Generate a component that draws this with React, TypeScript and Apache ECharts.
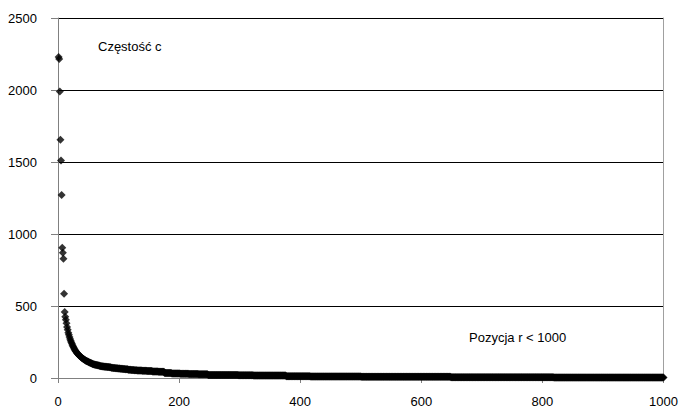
import React, { useEffect, useRef } from "react";
import * as echarts from "echarts";

// Frequencies of the most frequent ranks, listed one by one (rank 1 .. 60)
const headFreq: number[] = [
  2230, 2215, 1990, 1655, 1510, 1270, 905, 870, 828, 585,
  458, 425, 405, 380, 355, 335, 315, 300, 285, 270,
  258, 248, 238, 228, 218, 210, 202, 195, 188, 182,
  176, 171, 166, 161, 157, 153, 149, 145, 141, 138,
  135, 132, 129, 126, 123, 120, 118, 116, 114, 112,
  110, 108, 106, 104, 102, 100, 98, 96, 95, 94,
];

// Lower ranks share frequencies: each value below is held by the number of
// consecutive ranks given at the same position in tailCount.
const tailFreq: number[] = [
  92, 90, 88, 86, 84,
  82, 80, 78, 76, 74, 72,
  70, 68, 66, 64, 62,
  60, 58, 56, 54,
  52, 50, 48, 46, 44,
  34, 32, 30, 28, 26,
  21, 20, 19, 18, 17,
  12, 11, 10,
  9, 8,
  5, 4,
];
const tailCount: number[] = [
  2, 2, 2, 2, 2,
  3, 3, 4, 4, 3, 3,
  4, 4, 4, 4, 4,
  5, 5, 5, 5,
  8, 8, 9, 10, 10,
  12, 14, 14, 16, 16,
  25, 25, 25, 27, 27,
  40, 42, 42,
  70, 78,
  170, 182,
];

const xTicks = [0, 200, 400, 600, 800, 1000];
const yTicks = [0, 500, 1000, 1500, 2000, 2500];

const yTitle = "Częstość c";
const xTitle = "Pozycja r < 1000";

function buildPoints(): [number, number][] {
  const pts: [number, number][] = [];
  let rank = 1;
  headFreq.forEach((f) => {
    pts.push([rank, f]);
    rank += 1;
  });
  tailFreq.forEach((f, i) => {
    for (let k = 0; k < tailCount[i]; k++) {
      pts.push([rank, f]);
      rank += 1;
    }
  });
  return pts;
}

const FONT = "'Liberation Sans', Arial, sans-serif";
const plain = (v: number) => String(v);

export default function App() {
  const ref = useRef<HTMLDivElement>(null);

  useEffect(() => {
    if (!ref.current) return;
    const chart = echarts.init(ref.current, null, { renderer: "svg" });
    const step = xTicks[1] - xTicks[0];
    const yStep = yTicks[1] - yTicks[0];
    chart.setOption({
      animation: false,
      backgroundColor: "#ffffff",
      textStyle: { fontFamily: FONT },
      grid: { left: 58, right: 15, top: 18, bottom: 34, containLabel: false },
      xAxis: {
        type: "value",
        min: xTicks[0],
        max: xTicks[xTicks.length - 1],
        interval: step,
        axisLine: { show: true, lineStyle: { color: "#808080", width: 1 } },
        axisTick: { show: true, inside: false, length: 5, lineStyle: { color: "#808080" } },
        axisLabel: { color: "#000", fontSize: 13, fontFamily: FONT, margin: 17, formatter: plain },
        splitLine: { show: false },
      },
      yAxis: [
        {
          type: "value",
          min: yTicks[0],
          max: yTicks[yTicks.length - 1],
          interval: yStep,
          axisLine: { show: true, lineStyle: { color: "#808080", width: 1 } },
          axisTick: { show: true, inside: false, length: 7, lineStyle: { color: "#808080" } },
          axisLabel: { color: "#000", fontSize: 13, fontFamily: FONT, margin: 21, formatter: plain },
          splitLine: { show: true, lineStyle: { color: "#000", width: 1 } },
        },
        {
          type: "value",
          position: "right",
          min: yTicks[0],
          max: yTicks[yTicks.length - 1],
          interval: yStep,
          axisLine: { show: true, lineStyle: { color: "#a0a0a0", width: 1 } },
          axisTick: { show: false },
          axisLabel: { show: false },
          splitLine: { show: false },
        },
      ],
      graphic: [
        {
          type: "text",
          left: 98,
          top: 40,
          style: { text: yTitle, fill: "#000", font: `13px ${FONT}` },
        },
        {
          type: "text",
          left: 469,
          top: 331,
          style: { text: xTitle, fill: "#000", font: `13px ${FONT}` },
        },
      ],
      series: [
        {
          type: "scatter",
          yAxisIndex: 0,
          symbol: "diamond",
          symbolSize: [8, 8],
          itemStyle: { color: "#000" },
          large: false,
          data: buildPoints(),
          z: 3,
        },
      ],
    });
    return () => chart.dispose();
  }, []);

  return (
    <div
      ref={ref}
      style={{ position: "fixed", left: 0, top: 0, width: 681, height: 412 }}
    />
  );
}
